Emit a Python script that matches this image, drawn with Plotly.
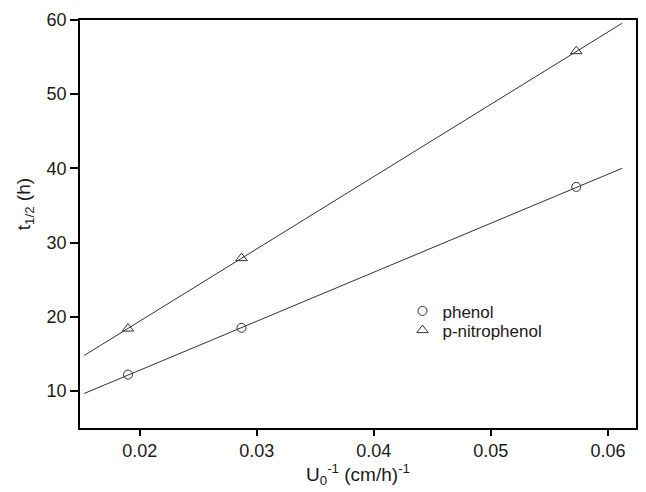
import plotly.graph_objects as go

# Data
x_inv_u0 = [0.0190, 0.0287, 0.0573]
t_half_phenol = [12.2, 18.5, 37.5]
t_half_nitrophenol = [18.4, 27.9, 55.8]

# Fitted line endpoints (as drawn in the reference)
fit_x = [0.01525, 0.0612]
fit_phenol = [9.65, 40.0]
fit_nitrophenol = [14.77, 59.55]

x_ticks = [0.02, 0.03, 0.04, 0.05, 0.06]
x_tick_labels = ["0.02", "0.03", "0.04", "0.05", "0.06"]
y_ticks = [10, 20, 30, 40, 50, 60]

FONT = "Liberation Sans, Arial, sans-serif"
INK = "#1a1a1a"

fig = go.Figure()
fig.add_trace(go.Scatter(x=fit_x, y=fit_phenol, mode="lines",
                         line=dict(color="#333333", width=1), showlegend=False, hoverinfo="skip"))
fig.add_trace(go.Scatter(x=fit_x, y=fit_nitrophenol, mode="lines",
                         line=dict(color="#333333", width=1), showlegend=False, hoverinfo="skip"))
fig.add_trace(go.Scatter(x=x_inv_u0, y=t_half_phenol, mode="markers", name="phenol",
                         legend="legend",
                         marker=dict(symbol="circle-open", size=9, color="#333333",
                                     line=dict(width=1, color="#333333"))))
fig.add_trace(go.Scatter(x=x_inv_u0, y=t_half_nitrophenol, mode="markers", name="p-nitrophenol",
                         legend="legend2",
                         marker=dict(symbol="triangle-up-open", size=10, color="#333333",
                                     line=dict(width=1, color="#333333"))))

axis_common = dict(showgrid=False, zeroline=False, showline=True, linecolor="black",
                   linewidth=1.5, mirror=True, ticks="outside", tickcolor="black",
                   tickwidth=1.5, tickfont=dict(family=FONT, size=18, color=INK))

fig.update_xaxes(range=[0.0149, 0.0624], tickvals=x_ticks, ticktext=x_tick_labels,
                 ticklen=6,
                 title=dict(text="U<sub>0</sub><sup>-1</sup> (cm/h)<sup>-1</sup>",
                            font=dict(family=FONT, size=19, color=INK), standoff=6),
                 **axis_common)
fig.update_yaxes(range=[5, 60], tickvals=y_ticks, ticklen=8, **axis_common)

legend_common = dict(xanchor="left", yanchor="top", bgcolor="rgba(0,0,0,0)", borderwidth=0,
                     font=dict(family=FONT, size=17, color=INK))

fig.update_layout(
    width=646, height=492,
    margin=dict(l=80, r=8, t=20, b=64),
    paper_bgcolor="white", plot_bgcolor="white",
    font=dict(family=FONT, color=INK),
    legend=dict(x=0.580, y=0.330, **legend_common),
    legend2=dict(x=0.580, y=0.283, **legend_common),
    annotations=[dict(text="t<sub>1/2</sub> (h)", textangle=-90, showarrow=False,
                      xref="paper", yref="paper", x=-0.0986, y=0.549,
                      xanchor="center", yanchor="middle",
                      font=dict(family=FONT, size=19, color=INK))],
)

fig.write_html("out.html")
